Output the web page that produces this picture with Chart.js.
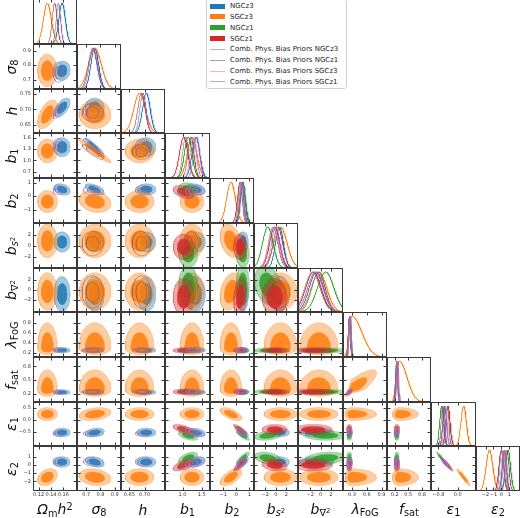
<!DOCTYPE html>
<html>
<head>
<meta charset="utf-8">
<script src="https://cdn.jsdelivr.net/npm/chart.js@4.4.1/dist/chart.umd.min.js"></script>
<style>
  body { margin: 0; background: #fff; }
  #grid { position: absolute; left: 0; top: 0; width: 520px; height: 518px; overflow: hidden; font-family: "DejaVu Sans", sans-serif; }
  #grid canvas { position: absolute; }
  .xlab, .ylab { position: absolute; font-size: 14px; color: #111; white-space: nowrap; line-height: 1; }
  .xlab { transform: translate(-50%, -50%); }
  .ylab { transform: translate(-50%, -50%) rotate(-90deg); }
  .xlab sub, .ylab sub { font-size: 70%; vertical-align: -0.25em; }
  .xlab sup, .ylab sup { font-size: 70%; vertical-align: 0.45em; }
  #legend { position: absolute; left: 206px; top: -1px; width: 139px; height: 88px; background: #fff;
            border: 1px solid #d0d0d0; border-radius: 3px; z-index: 5; font-size: 7px; color: #222; }
  .lrow { position: absolute; left: 0; height: 10px; }
  .lrow span.key { position: absolute; left: 3px; width: 15px; }
  .lrow span.txt { position: absolute; left: 23px; white-space: nowrap; }
</style>
</head>
<body>
<div id="grid"><div id="legend"></div></div>
<script>
// parameters (columns / rows of the triangle)
const paramLabels = ['<i>Ω</i><sub>m</sub><i>h</i><sup>2</sup>', '<i>σ</i><sub>8</sub>', '<i>h</i>', '<i>b</i><sub>1</sub>', '<i>b</i><sub>2</sub>',
  '<i>b</i><sub><i>s</i><sup>2</sup></sub>', '<i>b</i><sub>∇<sup>2</sup></sub>', '<i>λ</i><sub>FoG</sub>', '<i>f</i><sub>sat</sub>', '<i>ε</i><sub>1</sub>', '<i>ε</i><sub>2</sub>'];
const paramMin = [0.111, 0.635, 0.623, 0.54, -2.0, -4.1, -4.4, 0.12, 0.03, -1.1, -3.2];
const paramMax = [0.182, 0.945, 0.767, 1.72, 1.35, 4.2, 4.4, 1.01, 1.0, 0.76, 2.35];
const xTickVals = [[0.12, 0.14, 0.16], [0.7, 0.8, 0.9], [0.65, 0.70], [1.0, 1.5], [-1, 0, 1], [-2, 0, 2], [-2, 0, 2], [0.3, 0.6, 0.9], [0.2, 0.5, 0.8], [-0.8, 0.0], [-2, -1, 0, 1]];
const xTickText = [['0.12', '0.14', '0.16'], ['0.7', '0.8', '0.9'], ['0.65', '0.70'], ['1.0', '1.5'], ['−1', '0', '1'], ['−2', '0', '2'], ['−2', '0', '2'], ['0.3', '0.6', '0.9'], ['0.2', '0.5', '0.8'], ['−0.8', '0.0'], ['−2', '−1', '0', '1']];
const yTickVals = [null, [0.7, 0.8, 0.9], [0.65, 0.70, 0.75], [0.7, 1.0, 1.3, 1.6], [-1, 0, 1], [-2, 0, 2], [-2, 0, 2], [0.2, 0.4, 0.6, 0.8], [0.2, 0.5, 0.8], [-0.5, 0.0, 0.5], [-2, -1, 0, 1]];
const yTickText = [null, ['0.7', '0.8', '0.9'], ['0.65', '0.70', '0.75'], ['0.7', '1.0', '1.3', '1.6'], ['−1', '0', '1'], ['−2', '0', '2'], ['−2', '0', '2'], ['0.2', '0.4', '0.6', '0.8'], ['0.2', '0.5', '0.8'], ['−0.5', '0.0', '0.5'], ['−2', '−1', '0', '1']];

// series: posterior means and widths per parameter (null = not sampled)
const seriesNames = ['NGCz3', 'SGCz3', 'NGCz1', 'SGCz1', 'Comb. Phys. Bias Priors NGCz3', 'Comb. Phys. Bias Priors NGCz1', 'Comb. Phys. Bias Priors SGCz3', 'Comb. Phys. Bias Priors SGCz1'];
const seriesColors = ['#1f77b4', '#ff7f0e', '#2ca02c', '#d62728', '#9467bd', '#8c564b', '#e377c2', '#7f7f7f'];

const ngcz3Mean = [0.158, 0.76, 0.706, 1.35, 0.5, 0.7, -0.8, 0.255, 0.24, -0.53, 0.38];
const ngcz3Sig  = [0.0052, 0.027, 0.0125, 0.1, 0.17, 0.75, 1.4, 0.022, 0.022, 0.075, 0.26];
const sgcz3Mean = [0.134, 0.76, 0.684, 1.25, -0.4, 0.9, -0.3, 0.3, 0.3, 0.25, -1.5];
const sgcz3SigLo = [0.0062, 0.044, 0.019, 0.125, 0.33, 1.25, 1.5, 0.055, 0.06, 0.11, 0.42];
const sgcz3SigHi = [0.0066, 0.046, 0.019, 0.125, 0.33, 1.25, 1.5, 0.2, 0.17, 0.11, 0.42];
const ngcz1Mean = [null, null, null, 1.15, 0.5, -1.5, 1.0, 0.25, 0.25, -0.66, 0.85];
const ngcz1Sig  = [null, null, null, 0.1, 0.2, 1.0, 1.6, 0.02, 0.02, 0.08, 0.3];
const sgcz1Mean = [null, null, null, 1.03, 0.3, -0.2, -1.4, 0.25, 0.25, -0.4, 0.0];
const sgcz1Sig  = [null, null, null, 0.11, 0.2, 0.95, 1.5, 0.022, 0.025, 0.085, 0.3];
const combN3Mean = [0.152, 0.75, 0.695, 1.37, 0.45, 0.0, -1.0, 0.26, 0.245, -0.57, 0.42];
const combN3Sig  = [0.0035, 0.028, 0.01, 0.08, 0.14, 0.8, 1.5, 0.02, 0.02, 0.05, 0.22];
const combN1Mean = [0.146, 0.745, 0.69, 1.22, 0.4, 0.4, -0.4, 0.25, 0.25, -0.62, 0.7];
const combN1Sig  = [0.004, 0.03, 0.012, 0.08, 0.15, 0.9, 1.3, 0.018, 0.02, 0.06, 0.25];
const combS3Mean = [null, null, null, 1.28, 0.35, -0.4, -1.0, 0.26, 0.255, -0.5, 0.25];
const combS3Sig  = [null, null, null, 0.08, 0.15, 0.9, 1.5, 0.02, 0.02, 0.06, 0.25];
const combS1Mean = [null, null, null, 1.08, 0.3, -0.5, -1.6, 0.25, 0.26, -0.42, 0.05];
const combS1Sig  = [null, null, null, 0.08, 0.15, 0.9, 1.5, 0.02, 0.02, 0.06, 0.25];
// parameters left out of the 2D panels for each prior run
const combN3Hide = [5, 6];
const combN1Hide = [0, 4, 9, 10];
const combS3Hide = [5, 6];
const combS1Hide = [5, 6];

// correlations [i, j, rho]
const ngcz3Corr = [[0, 2, 0.6], [0, 1, 0.1], [1, 3, -0.95], [1, 4, -0.6], [0, 4, -0.3], [3, 4, -0.3], [4, 9, -0.7], [4, 10, 0.6], [3, 9, -0.3], [3, 10, 0.3], [9, 10, -0.95], [7, 8, 0.8], [1, 9, 0.3], [1, 10, -0.35]];
const sgcz3Corr = [[0, 2, 0.55], [1, 3, -0.95], [1, 4, -0.2], [4, 9, -0.6], [4, 10, 0.6], [9, 10, -0.95], [7, 8, 0.85], [1, 9, 0.3], [1, 10, -0.2], [4, 5, -0.3], [4, 6, 0.3], [0, 10, 0.3]];
const ngcz1Corr = [[3, 4, -0.2], [4, 9, -0.85], [4, 10, 0.85], [3, 9, -0.5], [3, 10, 0.5], [9, 10, -0.95], [7, 8, 0.8], [5, 10, -0.3], [5, 9, 0.3], [5, 6, -0.2], [6, 10, 0.2]];
const sgcz1Corr = [[3, 4, -0.4], [4, 9, -0.85], [4, 10, 0.85], [3, 9, -0.6], [3, 10, 0.6], [9, 10, -0.95], [7, 8, 0.8], [5, 10, -0.2], [4, 6, 0.2]];
const combCorr = [[0, 2, 0.7], [1, 3, -0.9], [9, 10, -0.9], [7, 8, 0.8], [4, 9, -0.7], [4, 10, 0.7], [3, 9, -0.4], [3, 10, 0.4]];

// draw order: first is at the bottom
const series = [
  { color: seriesColors[0], mean: ngcz3Mean, lo: ngcz3Sig, hi: ngcz3Sig, corr: ngcz3Corr, filled: true, hide: [] },
  { color: seriesColors[1], mean: sgcz3Mean, lo: sgcz3SigLo, hi: sgcz3SigHi, corr: sgcz3Corr, filled: true, hide: [] },
  { color: seriesColors[2], mean: ngcz1Mean, lo: ngcz1Sig, hi: ngcz1Sig, corr: ngcz1Corr, filled: true, hide: [] },
  { color: seriesColors[3], mean: sgcz1Mean, lo: sgcz1Sig, hi: sgcz1Sig, corr: sgcz1Corr, filled: true, hide: [] },
  { color: seriesColors[5], mean: combN1Mean, lo: combN1Sig, hi: combN1Sig, corr: combCorr, filled: false, hide: combN1Hide },
  { color: seriesColors[7], mean: combS1Mean, lo: combS1Sig, hi: combS1Sig, corr: combCorr, filled: false, hide: combS1Hide },
  { color: seriesColors[6], mean: combS3Mean, lo: combS3Sig, hi: combS3Sig, corr: combCorr, filled: false, hide: combS3Hide },
  { color: seriesColors[4], mean: combN3Mean, lo: combN3Sig, hi: combN3Sig, corr: combCorr, filled: false, hide: combN3Hide }
];

const N = 11;
const colX = [], rowY = [];
for (let k = 0; k <= N; k++) {
  colX.push(Math.round(32.5 + k * 44.32));
  rowY.push(Math.round(k * 44.72 - 0.8));
}
const M = 8, AXH = 14;
const tickFont = { family: 'DejaVu Sans', size: 5 };

function rgba(hex, a) {
  const n = parseInt(hex.slice(1), 16);
  return 'rgba(' + (n >> 16) + ',' + ((n >> 8) & 255) + ',' + (n & 255) + ',' + a + ')';
}

function rho(s, i, j) {
  const e = s.corr.find(c => (c[0] === i && c[1] === j) || (c[0] === j && c[1] === i));
  return e ? e[2] : 0;
}

// 2D credible contour (level k in standardised units) of a series
function contour(s, i, j, k) {
  const r = rho(s, i, j), q = Math.sqrt(1 - r * r);
  const pts = [];
  for (let n = 0; n <= 96; n++) {
    const t = n / 96 * 2 * Math.PI;
    const u = k * Math.cos(t), v = k * (r * Math.cos(t) + q * Math.sin(t));
    pts.push({ x: s.mean[i] + u * (u < 0 ? s.lo[i] : s.hi[i]), y: s.mean[j] + v * (v < 0 ? s.lo[j] : s.hi[j]) });
  }
  return pts;
}

// 1D marginal of a series
function marginal(s, i) {
  const pts = [];
  for (let n = 0; n <= 160; n++) {
    const x = paramMin[i] + (paramMax[i] - paramMin[i]) * n / 160;
    const u = (x - s.mean[i]) / (x < s.mean[i] ? s.lo[i] : s.hi[i]);
    pts.push({ x: x, y: Math.exp(-0.5 * u * u) });
  }
  return pts;
}

const framePlugin = {
  id: 'frame',
  afterDatasetsDraw(chart, args, opts) {
    const { ctx, chartArea: a, scales } = chart;
    const L = Math.round(a.left) + 0.5, R = Math.round(a.right) - 0.5;
    const T = Math.round(a.top) + 0.5, B = Math.round(a.bottom) - 0.5;
    ctx.save();
    ctx.strokeStyle = '#3a3a3a';
    ctx.lineWidth = 1;
    ctx.beginPath();
    (opts.xMarks || []).forEach(v => {
      const p = Math.round(scales.x.getPixelForValue(v)) + 0.5;
      ctx.moveTo(p, B); ctx.lineTo(p, B - 3);
      ctx.moveTo(p, T); ctx.lineTo(p, T + 3);
    });
    (opts.yMarks || []).forEach(v => {
      const p = Math.round(scales.y.getPixelForValue(v)) + 0.5;
      ctx.moveTo(L, p); ctx.lineTo(L + 3, p);
      ctx.moveTo(R, p); ctx.lineTo(R - 3, p);
    });
    ctx.stroke();
    ctx.strokeRect(L, T, R - L, B - T);
    ctx.restore();
  }
};

function axisCfg(vals, texts, min, max, show, fit, horizontal) {
  return {
    type: 'linear', min: min, max: max, display: show,
    grid: { display: false, drawTicks: false }, border: { display: false },
    ticks: {
      font: tickFont, color: '#333', padding: horizontal ? 1 : 2, maxRotation: 0, minRotation: 0, autoSkip: false,
      callback: v => { const k = vals ? vals.findIndex(t => Math.abs(t - v) < 1e-9) : -1; return k >= 0 ? texts[k] : ''; }
    },
    afterBuildTicks: sc => { if (vals) sc.ticks = vals.map(v => ({ value: v })); },
    afterFit: sc => { if (show) { if (horizontal) sc.height = fit; else sc.width = fit; } }
  };
}

const grid = document.getElementById('grid');
function makePanel(r, c) {
  const diag = r === c;
  const isLeft = c === 0 && !diag;
  const isBottom = r === N - 1;
  const x0 = colX[c], x1 = colX[c + 1], y0 = rowY[r], y1 = rowY[r + 1];
  const left = isLeft ? 0 : x0 - M;
  const top = y0 - M;
  const w = x1 + M - left;
  const h = (isBottom ? y1 + AXH : y1 + M) - top;
  const cv = document.createElement('canvas');
  cv.width = w; cv.height = h;
  cv.style.left = left + 'px'; cv.style.top = top + 'px';
  cv.style.width = w + 'px'; cv.style.height = h + 'px';
  grid.appendChild(cv);

  const datasets = [];
  series.forEach(s => {
    if (diag) {
      if (s.mean[c] === null) return;
      datasets.push({ data: marginal(s, c), borderColor: s.filled ? s.color : rgba(s.color, 0.85), borderWidth: s.filled ? 1 : 0.8, fill: false });
    } else {
      if (s.mean[c] === null || s.mean[r] === null) return;
      if (s.hide.includes(c) || s.hide.includes(r)) return;
      if (s.filled) {
        datasets.push({ data: contour(s, c, r, 2.49), borderColor: rgba(s.color, 0.45), borderWidth: 0.6, backgroundColor: rgba(s.color, 0.4), fill: 'shape' });
        datasets.push({ data: contour(s, c, r, 1.52), borderColor: rgba(s.color, 0.6), borderWidth: 0.5, backgroundColor: rgba(s.color, 0.85), fill: 'shape' });
      } else {
        datasets.push({ data: contour(s, c, r, 2.49), borderColor: rgba(s.color, 0.7), borderWidth: 0.6, fill: false });
        datasets.push({ data: contour(s, c, r, 1.52), borderColor: rgba(s.color, 0.7), borderWidth: 0.6, fill: false });
      }
    }
  });
  datasets.forEach((d, k) => { d.order = datasets.length - k; d.pointRadius = 0; d.tension = 0; });

  new Chart(cv, {
    type: 'line',
    data: { datasets: datasets },
    options: {
      responsive: false, animation: false, events: [], devicePixelRatio: 1,
      layout: { padding: { left: isLeft ? 0 : M, right: M, top: M, bottom: isBottom ? 0 : M } },
      plugins: { legend: { display: false }, tooltip: { enabled: false }, frame: { xMarks: xTickVals[c], yMarks: diag ? [] : yTickVals[r] } },
      scales: {
        x: axisCfg(xTickVals[c], xTickText[c], paramMin[c], paramMax[c], isBottom, AXH, true),
        y: diag ? axisCfg(null, null, 0, 1.1, false, 0, false)
                : axisCfg(yTickVals[r], yTickText[r], paramMin[r], paramMax[r], isLeft, x0, false)
      }
    },
    plugins: [framePlugin]
  });
}

for (let r = 0; r < N; r++) for (let c = 0; c <= r; c++) makePanel(r, c);

// axis titles
for (let c = 0; c < N; c++) {
  const d = document.createElement('div');
  d.className = 'xlab'; d.innerHTML = paramLabels[c];
  d.style.left = ((colX[c] + colX[c + 1]) / 2) + 'px'; d.style.top = '510px';
  grid.appendChild(d);
}
for (let r = 1; r < N; r++) {
  const d = document.createElement('div');
  d.className = 'ylab'; d.innerHTML = paramLabels[r];
  d.style.left = '12px'; d.style.top = ((rowY[r] + rowY[r + 1]) / 2) + 'px';
  grid.appendChild(d);
}

// legend
const legend = document.getElementById('legend');
seriesNames.forEach((name, k) => {
  const row = document.createElement('div');
  row.className = 'lrow';
  row.style.top = (1 + k * 10.85) + 'px';
  const key = document.createElement('span');
  key.className = 'key';
  if (k < 4) { key.style.top = '2.5px'; key.style.height = '5px'; key.style.background = seriesColors[k]; }
  else { key.style.top = '4.5px'; key.style.height = '0.8px'; key.style.background = rgba(seriesColors[k], 0.6); }
  const txt = document.createElement('span');
  txt.className = 'txt'; txt.textContent = name; txt.style.top = '1px';
  row.appendChild(key); row.appendChild(txt);
  legend.appendChild(row);
});
</script>
</body>
</html>
